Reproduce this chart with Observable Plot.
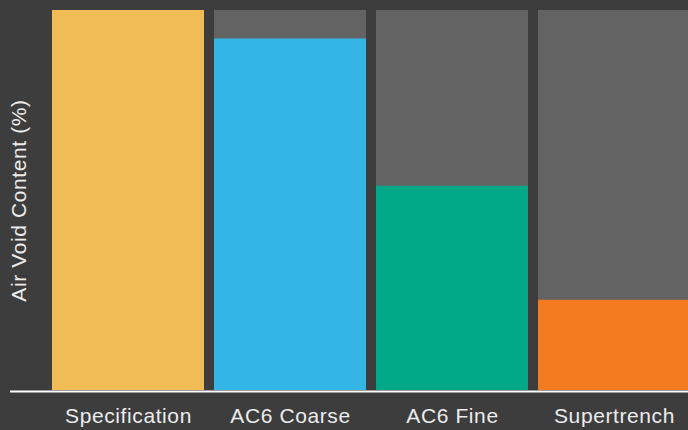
<!DOCTYPE html>
<html>
<head>
<meta charset="utf-8">
<script src="https://cdn.jsdelivr.net/npm/d3@7"></script>
<script src="https://cdn.jsdelivr.net/npm/@observablehq/plot@0.6"></script>
<style>
  html, body { margin: 0; padding: 0; background: #3d3d3d; overflow: hidden; }
  #chart { width: 688px; height: 430px; }
  #chart text { letter-spacing: 0.6px; }
</style>
</head>
<body>
<div id="chart"></div>
<script>
const categories = ["Specification", "AC6 Coarse", "AC6 Fine", "Supertrench"];
const values = [8, 7.4, 4.3, 1.9];
const maxValue = 8;
const colors = ["#f1bb55", "#33b5e5", "#00a887", "#f47b20"];
const yLabel = "Air Void Content (%)";

const data = categories.map((c, i) => ({category: c, value: values[i]}));
const background = categories.map(c => ({category: c, value: maxValue}));

const chart = Plot.plot({
  width: 688,
  height: 430,
  marginTop: 10,
  marginBottom: 40,
  marginLeft: 10,
  marginRight: 0,
  style: {
    background: "#3d3d3d",
    color: "#ececec",
    fontFamily: "'Liberation Sans', Arial, Helvetica, sans-serif",
    fontSize: "21px",
    overflow: "hidden"
  },
  x: {domain: categories, range: [50.5, 691], paddingInner: 0.0615, paddingOuter: 0, label: null},
  y: {domain: [0, maxValue], axis: null},
  color: {domain: categories, range: colors},
  marks: [
    Plot.barY(background, {x: "category", y: "value", fill: "#636363"}),
    Plot.barY(data, {x: "category", y: "value", fill: "category"}),
    Plot.ruleY([0], {stroke: "#ffffff", strokeWidth: 2, dy: 1}),
    Plot.axisX({tickSize: 0, tickPadding: 18, fontSize: 21, fill: "#ececec", label: null}),
    Plot.text([yLabel], {frameAnchor: "left", textAnchor: "middle", lineAnchor: "middle", rotate: -90, dx: 9, fill: "#ececec", fontSize: 21})
  ]
});
document.getElementById("chart").appendChild(chart);
</script>
</body>
</html>
